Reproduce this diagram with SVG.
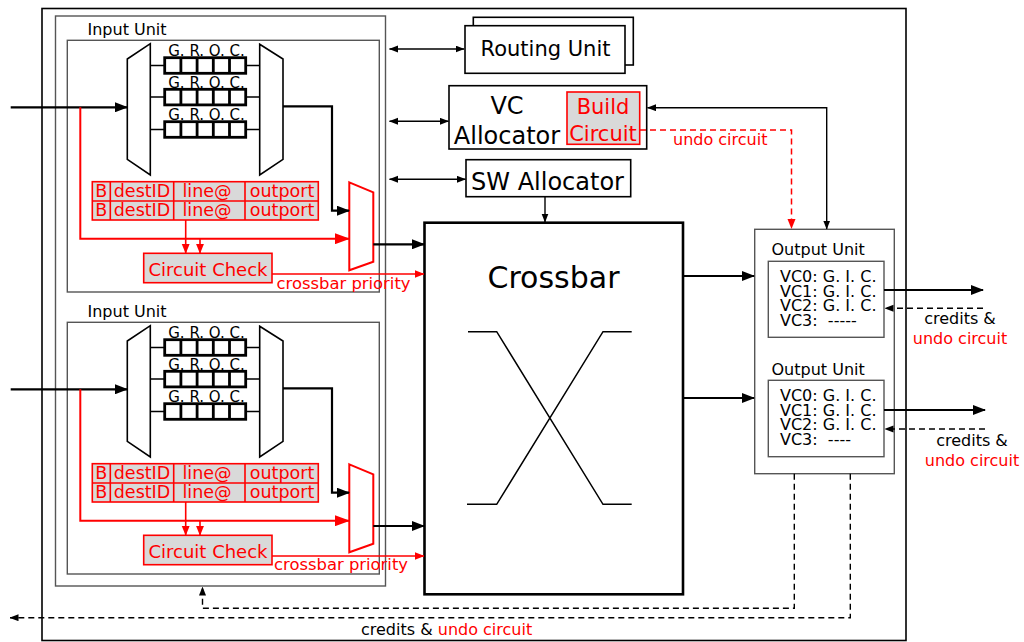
<svg xmlns="http://www.w3.org/2000/svg" width="1024" height="642" viewBox="0 0 1024 642">
<defs>
<style>
text{font-family:"DejaVu Sans","Liberation Sans",sans-serif;fill:#000}
.red{fill:#ff0000}
.gbox{fill:none;stroke:#555;stroke-width:1.4}
.bbox{fill:#fff;stroke:#000;stroke-width:1.6}
.trap{fill:#fff;stroke:#000;stroke-width:1.6}
.rtrap{fill:#fff;stroke:#ff0000;stroke-width:2}
.buf{fill:#fff;stroke:#000;stroke-width:2.8}
.thin{fill:none;stroke:#000;stroke-width:1.5}
.rtab{fill:#d9d9d9;stroke:#ff0000;stroke-width:1.6}
.rline{fill:none;stroke:#ff0000;stroke-width:1.6}
.c-thick{fill:none;stroke:#000;stroke-width:2.2;marker-end:url(#ahL)}
.c-thin{fill:none;stroke:#000;stroke-width:1.4}
.c-red{fill:none;stroke:#ff0000;stroke-width:2;marker-end:url(#ahRL)}
.c-reds{fill:none;stroke:#ff0000;stroke-width:1.6;marker-end:url(#ahRS)}
.dash{stroke-dasharray:6 4}
</style>
<marker id="ahL" markerUnits="userSpaceOnUse" markerWidth="13" markerHeight="10" refX="12" refY="5" orient="auto"><path d="M0,0 L13,5 L0,10 z" fill="#000"/></marker>
<marker id="ahS" markerUnits="userSpaceOnUse" markerWidth="9" markerHeight="8" refX="8.5" refY="3.5" orient="auto-start-reverse"><path d="M0,0 L9,3.5 L0,7 z" fill="#000"/></marker>
<marker id="ahRL" markerUnits="userSpaceOnUse" markerWidth="15" markerHeight="11" refX="14" refY="5.5" orient="auto"><path d="M0,0 L15,5.5 L0,11 z" fill="#ff0000"/></marker>
<marker id="ahRS" markerUnits="userSpaceOnUse" markerWidth="10" markerHeight="9" refX="9.5" refY="4" orient="auto"><path d="M0,0 L10,4 L0,8 z" fill="#ff0000"/></marker>
</defs>
<rect width="1024" height="642" fill="#fff"/>

<g id="router-frame">
<rect x="42" y="8.5" width="864" height="632" fill="none" stroke="#000" stroke-width="1.6"/>
<rect x="55.5" y="16" width="330" height="570" class="gbox"/>
</g>

<g id="input-unit-1">
<text x="87.5" y="34.5" font-size="16">Input Unit</text>
<rect x="67.3" y="40.3" width="312" height="251.7" class="gbox"/>
<polygon points="127.3,59 150.3,43.7 150.3,175 127.3,159.3" class="trap"/>
<polygon points="259.7,44.3 283,59 283,159.3 259.7,175" class="trap"/>
<path d="M150.3,65.5H164.7M150.3,97.1H164.7M150.3,129.5H164.7M245.7,65.5H259.7M245.7,97.1H259.7M245.7,129.5H259.7" class="thin"/>
<rect x="164.7" y="57.7" width="81" height="15.6" class="buf"/>
<path d="M180.9,57.7v15.6M197.1,57.7v15.6M213.3,57.7v15.6M229.5,57.7v15.6" class="buf"/>
<rect x="164.7" y="89.3" width="81" height="15.6" class="buf"/>
<path d="M180.9,89.3v15.6M197.1,89.3v15.6M213.3,89.3v15.6M229.5,89.3v15.6" class="buf"/>
<rect x="164.7" y="121.7" width="81" height="15.6" class="buf"/>
<path d="M180.9,121.7v15.6M197.1,121.7v15.6M213.3,121.7v15.6M229.5,121.7v15.6" class="buf"/>
<text x="206.5" y="56" font-size="15" text-anchor="middle">G. R. O. C.</text>
<text x="206.5" y="87.5" font-size="15" text-anchor="middle">G. R. O. C.</text>
<text x="206.5" y="119.5" font-size="15" text-anchor="middle">G. R. O. C.</text>
<rect x="92.3" y="181.7" width="226" height="38.3" class="rtab"/>
<path d="M92.3,201H318.3M110.3,181.7V220M173.7,181.7V220M245,181.7V220" class="rline"/>
<text x="101.3" y="196.5" font-size="17.5" text-anchor="middle" class="red">B</text>
<text x="142" y="196.5" font-size="17.5" text-anchor="middle" class="red">destID</text>
<text x="207" y="196.5" font-size="17.5" text-anchor="middle" class="red">line@</text>
<text x="282" y="196.5" font-size="17.5" text-anchor="middle" class="red">outport</text>
<text x="101.3" y="216" font-size="17.5" text-anchor="middle" class="red">B</text>
<text x="142" y="216" font-size="17.5" text-anchor="middle" class="red">destID</text>
<text x="207" y="216" font-size="17.5" text-anchor="middle" class="red">line@</text>
<text x="282" y="216" font-size="17.5" text-anchor="middle" class="red">outport</text>
<rect x="143.7" y="253.3" width="128.3" height="29.4" class="rtab"/>
<text x="208" y="275.5" font-size="18" text-anchor="middle" class="red">Circuit Check</text>
<polygon points="349.3,182.3 373.3,192.3 373.3,261.7 349.3,270.3" class="rtrap"/>
<text x="276.5" y="288.5" font-size="16.4" class="red">crossbar priority</text>
</g>

<g id="input-unit-2" transform="translate(0,282)">
<text x="87.5" y="34.5" font-size="16">Input Unit</text>
<rect x="67.3" y="40.3" width="312" height="251.7" class="gbox"/>
<polygon points="127.3,59 150.3,43.7 150.3,175 127.3,159.3" class="trap"/>
<polygon points="259.7,44.3 283,59 283,159.3 259.7,175" class="trap"/>
<path d="M150.3,65.5H164.7M150.3,97.1H164.7M150.3,129.5H164.7M245.7,65.5H259.7M245.7,97.1H259.7M245.7,129.5H259.7" class="thin"/>
<rect x="164.7" y="57.7" width="81" height="15.6" class="buf"/>
<path d="M180.9,57.7v15.6M197.1,57.7v15.6M213.3,57.7v15.6M229.5,57.7v15.6" class="buf"/>
<rect x="164.7" y="89.3" width="81" height="15.6" class="buf"/>
<path d="M180.9,89.3v15.6M197.1,89.3v15.6M213.3,89.3v15.6M229.5,89.3v15.6" class="buf"/>
<rect x="164.7" y="121.7" width="81" height="15.6" class="buf"/>
<path d="M180.9,121.7v15.6M197.1,121.7v15.6M213.3,121.7v15.6M229.5,121.7v15.6" class="buf"/>
<text x="206.5" y="56" font-size="15" text-anchor="middle">G. R. O. C.</text>
<text x="206.5" y="87.5" font-size="15" text-anchor="middle">G. R. O. C.</text>
<text x="206.5" y="119.5" font-size="15" text-anchor="middle">G. R. O. C.</text>
<rect x="92.3" y="181.7" width="226" height="38.3" class="rtab"/>
<path d="M92.3,201H318.3M110.3,181.7V220M173.7,181.7V220M245,181.7V220" class="rline"/>
<text x="101.3" y="196.5" font-size="17.5" text-anchor="middle" class="red">B</text>
<text x="142" y="196.5" font-size="17.5" text-anchor="middle" class="red">destID</text>
<text x="207" y="196.5" font-size="17.5" text-anchor="middle" class="red">line@</text>
<text x="282" y="196.5" font-size="17.5" text-anchor="middle" class="red">outport</text>
<text x="101.3" y="216" font-size="17.5" text-anchor="middle" class="red">B</text>
<text x="142" y="216" font-size="17.5" text-anchor="middle" class="red">destID</text>
<text x="207" y="216" font-size="17.5" text-anchor="middle" class="red">line@</text>
<text x="282" y="216" font-size="17.5" text-anchor="middle" class="red">outport</text>
<rect x="143.7" y="253.3" width="128.3" height="29.4" class="rtab"/>
<text x="208" y="275.5" font-size="18" text-anchor="middle" class="red">Circuit Check</text>
<polygon points="349.3,182.3 373.3,192.3 373.3,261.7 349.3,270.3" class="rtrap"/>
<text x="274" y="287.5" font-size="16.4" class="red">crossbar priority</text>
</g>

<g id="routing-unit">
<rect x="473.3" y="17.3" width="160" height="47.7" class="bbox"/>
<rect x="465" y="25.7" width="160" height="47.6" class="bbox"/>
<text x="545.5" y="55.5" font-size="21" text-anchor="middle">Routing Unit</text>
</g>

<g id="vc-allocator">
<rect x="449" y="85.7" width="197.7" height="63.3" class="bbox"/>
<text x="507" y="113.5" font-size="24" text-anchor="middle">VC</text>
<text x="507" y="143.5" font-size="24" text-anchor="middle">Allocator</text>
<g id="build-circuit">
<rect x="567" y="92" width="72.7" height="52.3" class="rtab"/>
<text x="603" y="113.5" font-size="21" text-anchor="middle" class="red">Build</text>
<text x="603" y="141" font-size="21" text-anchor="middle" class="red">Circuit</text>
</g>
</g>

<g id="sw-allocator">
<rect x="466" y="159.7" width="164.7" height="37" class="bbox"/>
<text x="547.5" y="190" font-size="24" text-anchor="middle">SW Allocator</text>
</g>

<g id="crossbar">
<rect x="424.5" y="222.7" width="258.5" height="371.6" fill="#fff" stroke="#000" stroke-width="2.6"/>
<text x="553.5" y="287.5" font-size="30" text-anchor="middle">Crossbar</text>
<path d="M468,331.7H496.7L603,504.3H631.7M467,504.3H496.7L603,331.7H631.7" class="thin"/>
</g>

<g id="output-unit-1">
<rect x="754.7" y="229.3" width="139.6" height="244.4" class="gbox"/>
<text x="771.5" y="255" font-size="16">Output Unit</text>
<rect x="768.3" y="261.3" width="115.7" height="76" class="gbox"/>
<text x="780" y="282" font-size="16">VC0: G. I. C.</text>
<text x="780" y="296.7" font-size="16">VC1: G. I. C.</text>
<text x="780" y="311" font-size="16">VC2: G. I. C.</text>
<text x="780" y="325.8" font-size="16">VC3:&#160; -----</text>
</g>

<g id="output-unit-2">
<text x="771.5" y="375" font-size="16">Output Unit</text>
<rect x="768.3" y="380.3" width="115.7" height="76.4" class="gbox"/>
<text x="780" y="400.5" font-size="16">VC0: G. I. C.</text>
<text x="780" y="415.5" font-size="16">VC1: G. I. C.</text>
<text x="780" y="430" font-size="16">VC2: G. I. C.</text>
<text x="780" y="445" font-size="16">VC3:&#160; ----</text>
</g>

<g id="connectors">
<path d="M10.7,107.3H127" class="c-thick"/>
<path d="M80.3,107.3V238.7H349" class="c-red"/>
<path d="M283,106.3H332V210.7H349" class="c-thick"/>
<path d="M185.7,220V253.3" class="c-reds"/>
<path d="M200,238.7V253.3" class="c-reds"/>
<path d="M373.3,244.3H424" class="c-thick"/>
<path d="M272,274H424" class="c-reds"/>
<path d="M10.7,389.3H127" class="c-thick"/>
<path d="M80.3,389.3V520.7H349" class="c-red"/>
<path d="M283,388.3H332V492.7H349" class="c-thick"/>
<path d="M185.7,502V535.3" class="c-reds"/>
<path d="M200,520.7V535.3" class="c-reds"/>
<path d="M373.3,526H424" class="c-thick"/>
<path d="M272,556H424" class="c-reds"/>
<path d="M389.5,49H464" class="c-thin" marker-start="url(#ahS)" marker-end="url(#ahS)"/>
<path d="M389.5,121.3H448.5" class="c-thin" marker-start="url(#ahS)" marker-end="url(#ahS)"/>
<path d="M389.5,179.3H465.5" class="c-thin" marker-start="url(#ahS)" marker-end="url(#ahS)"/>
<path d="M545,196.7V222" class="c-thin" marker-end="url(#ahS)"/>
<path d="M647.5,107.7H826.7V229" class="c-thin" marker-start="url(#ahS)" marker-end="url(#ahS)"/>
<path d="M640,130H791.5V228.5" fill="none" stroke="#ff0000" stroke-width="1.5" stroke-dasharray="6 4" marker-end="url(#ahRS)"/>
<text x="673" y="145" font-size="16" class="red">undo circuit</text>
<path d="M683,276H754" class="c-thick"/>
<path d="M683,398H754" class="c-thick"/>
<path d="M884,290H983" class="c-thick"/>
<path d="M983,308.3H885" class="c-thin dash" marker-end="url(#ahS)"/>
<text x="960" y="324" font-size="16" text-anchor="middle">credits &amp;</text>
<text x="960" y="344" font-size="16" text-anchor="middle" class="red">undo circuit</text>
<path d="M884,410H985" class="c-thick"/>
<path d="M985,429H885" class="c-thin dash" marker-end="url(#ahS)"/>
<text x="972" y="445.5" font-size="16" text-anchor="middle">credits &amp;</text>
<text x="972" y="466" font-size="16" text-anchor="middle" class="red">undo circuit</text>
<path d="M794.3,473.7V608.3H202.5V587" class="c-thin dash" marker-end="url(#ahS)"/>
<path d="M850.3,473.7V617.7H10" class="c-thin dash" marker-end="url(#ahS)"/>
<text x="361" y="634.5" font-size="16">credits &amp; <tspan class="red">undo circuit</tspan></text>
</g>
</svg>
